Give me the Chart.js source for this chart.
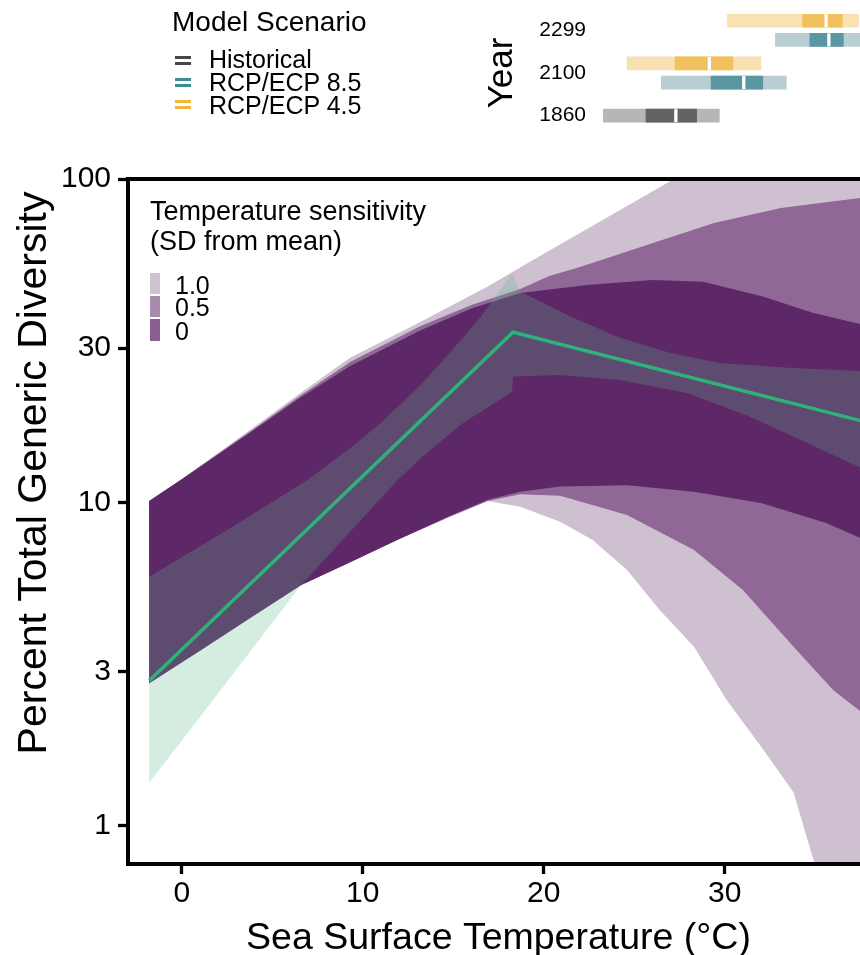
<!DOCTYPE html>
<html>
<head>
<meta charset="utf-8">
<script src="https://cdn.jsdelivr.net/npm/chart.js@4.4.0/dist/chart.umd.min.js"></script>
<style>
  html, body { margin: 0; padding: 0; background: #fff; }
  #page { position: relative; width: 860px; height: 955px; overflow: hidden; font-family: 'Liberation Sans', Arial, sans-serif; color: #000; }
  canvas { position: absolute; left: 0; }
  .txt { position: absolute; white-space: nowrap; line-height: 1; }
  .key { position: absolute; width: 16px; height: 9px; }
  .key i { position: absolute; left: 0; width: 16px; height: 3px; }
  .key i + i { top: 6px; }
  .sw { position: absolute; left: 150px; width: 10px; }
</style>
</head>
<body>
<div id="page">
  <canvas id="years" width="860" height="140" style="top:0"></canvas>
  <canvas id="main" width="860" height="815" style="top:140px"></canvas>

  <div class="txt" style="left:172px;top:8px;font-size:28px">Model Scenario</div>
  <div class="key" style="left:175px;top:56px"><i style="background:#474747"></i><i style="background:#474747"></i></div>
  <div class="key" style="left:175px;top:78px"><i style="background:#3d8a99"></i><i style="background:#3d8a99"></i></div>
  <div class="key" style="left:175px;top:100px"><i style="background:#f0b73a"></i><i style="background:#f0b73a"></i></div>
  <div class="txt" style="left:209px;top:47px;font-size:25px">Historical</div>
  <div class="txt" style="left:209px;top:70px;font-size:25px">RCP/ECP 8.5</div>
  <div class="txt" style="left:209px;top:93px;font-size:25px">RCP/ECP 4.5</div>

  <div class="txt" style="left:150px;top:196px;font-size:27px;line-height:30px">Temperature sensitivity<br>(SD from mean)</div>
  <div class="sw" style="top:273px;height:21px;background:#d0c1d3"></div>
  <div class="sw" style="top:296px;height:21px;background:#a88cad"></div>
  <div class="sw" style="top:319px;height:22px;background:#8b5f90"></div>
  <div class="txt" style="left:175px;top:273px;font-size:25px">1.0</div>
  <div class="txt" style="left:175px;top:295px;font-size:25px">0.5</div>
  <div class="txt" style="left:175px;top:319px;font-size:25px">0</div>
</div>
<script>
Chart.defaults.font.family = "'Liberation Sans', Arial, sans-serif";
Chart.defaults.color = '#000';

// ---- year panel (SST spread per scenario) ----
const yearLabels = ['1860', '2100', '2299'];
const histYears = ['1860'];
const histOuter = [[23.3, 29.7]];
const histInner = [[25.65, 28.45]];
const histMedian = [27.3];
const rcp85Years = ['2100', '2299'];
const rcp85Outer = [[26.5, 33.4], [32.8, 39.0]];
const rcp85Inner = [[29.25, 32.1], [34.7, 36.55]];
const rcp85Median = [31.05, 35.75];
const rcp45Years = ['2100', '2299'];
const rcp45Outer = [[24.6, 32.0], [30.15, 37.4]];
const rcp45Inner = [[27.25, 30.45], [34.3, 36.5]];
const rcp45Median = [29.15, 35.6];

// ---- main panel ----
const xTicks = [0, 10, 20, 30];
const yTicks = [1, 3, 10, 30, 100];

// temperature sensitivity bands (upper / lower edges)
const darkHiX = [-1.8, 0, 3.8, 6.5, 9.3, 13.2, 16.0, 18.7, 22.4, 26.0, 28.8, 32.1, 34.9, 37.5];
const darkHi = [10.1, 11.8, 16.5, 21.0, 26.4, 34.1, 39.8, 44.4, 47.0, 48.7, 48.1, 43.3, 38.5, 35.6];
const darkLoX = [-1.8, 1.0, 3.8, 6.6, 9.3, 11.9, 14.8, 16.9, 18.7, 20.9, 24.6, 28.3, 32.0, 35.6, 37.5];
const darkLo = [2.76, 3.48, 4.40, 5.56, 6.53, 7.66, 9.08, 10.2, 10.8, 11.2, 11.3, 10.8, 9.97, 8.64, 7.77];

const midHiX = [-1.8, 0, 3.8, 6.5, 9.3, 13.2, 16.0, 18.7, 20.3, 22.0, 25.7, 29.4, 33.1, 37.5];
const midHi = [10.1, 11.8, 16.6, 21.3, 27.2, 35.1, 40.8, 45.7, 50.1, 53.5, 62.5, 73.1, 81.4, 87.4];
const midLoX = [-1.8, 1.0, 3.8, 6.6, 9.3, 11.9, 14.8, 16.9, 18.7, 20.9, 24.6, 28.3, 31.0, 33.8, 36.0, 37.5];
const midLo = [2.76, 3.48, 4.40, 5.56, 6.53, 7.66, 9.05, 10.1, 10.6, 10.5, 9.15, 7.13, 5.36, 3.58, 2.63, 2.26];

const lightHiX = [-1.8, 0, 3.8, 6.5, 9.3, 13.2, 16.9, 19.4, 22.0, 27.1, 30.0, 37.5];
const lightHi = [10.1, 11.8, 16.8, 21.7, 28.0, 36.2, 46.5, 56.2, 68.1, 99.3, 122, 198];
const lightLoX = [-1.8, 1.0, 3.8, 6.6, 9.3, 11.9, 14.8, 16.9, 18.7, 20.9, 22.7, 24.6, 26.4, 28.3, 30.1, 32.0, 33.8, 34.9, 35.5, 37.5];
const lightLo = [2.76, 3.48, 4.40, 5.56, 6.53, 7.66, 9.0, 10.1, 9.71, 8.72, 7.66, 6.18, 4.65, 3.58, 2.45, 1.76, 1.27, 0.785, 0.6, 0.5];

// fitted breakpoint line and its interval
const fitX = [-1.8, 18.3, 37.5];
const fitY = [2.81, 33.6, 17.9];
const ciHiX = [-1.8, 2.7, 6.9, 9.3, 11.0, 13.2, 14.8, 16.5, 18.25, 18.7, 21.5, 24.2, 27.0, 29.7, 33.5, 37.5];
const ciHi = [5.90, 8.34, 11.7, 14.7, 17.6, 23.1, 29.0, 37.4, 51.0, 44.8, 37.5, 32.3, 29.0, 27.0, 26.1, 25.5];
const ciLoX = [-1.8, 1.0, 6.6, 11.9, 13.2, 15.4, 18.25, 18.3, 20.9, 24.2, 27.9, 31.2, 34.2, 37.5];
const ciLo = [1.36, 2.17, 5.56, 11.7, 13.7, 17.4, 22.0, 24.5, 24.8, 23.9, 21.8, 18.6, 15.6, 12.8];

function pts(xs, ys) {
	return xs.map((x, i) => ({x: x, y: ys[i]}));
}

function band(hiX, hi, loX, lo) {
	let out = pts(hiX, hi);
	for (let i = loX.length - 1; i >= 0; i--) {
		out.push({x: loX[i], y: lo[i]});
	}
	return out;
}

function scenarioSets(name, yrs, outer, inner, med, light, dark, shift) {
	let pos = yrs.map((y) => yearLabels.indexOf(y) + shift);
	return [
		{
			label: name + ' range',
			data: outer.map((r, i) => ({x: r, y: pos[i]})),
			backgroundColor: light,
			barThickness: 13,
			grouped: false,
			order: 3
		},
		{
			label: name + ' IQR',
			data: inner.map((r, i) => ({x: r, y: pos[i]})),
			backgroundColor: dark,
			barThickness: 13,
			grouped: false,
			order: 2
		},
		{
			type: 'scatter',
			indexAxis: 'x',
			label: name + ' median',
			data: med.map((m, i) => ({x: m, y: pos[i]})),
			pointStyle: 'line',
			pointRotation: 90,
			pointRadius: 6.5,
			pointBorderWidth: 3.3,
			pointBorderColor: '#fff',
			order: 1
		}
	];
}

new Chart(document.getElementById('years'), {
	type: 'bar',
	data: {
		datasets: [].concat(
			scenarioSets('Historical', histYears, histOuter, histInner, histMedian, '#b6b6b6', '#636363', 0),
			scenarioSets('RCP/ECP 8.5', rcp85Years, rcp85Outer, rcp85Inner, rcp85Median, '#b9cdd3', '#5b96a3', -0.225),
			scenarioSets('RCP/ECP 4.5', rcp45Years, rcp45Outer, rcp45Inner, rcp45Median, '#f8e1b2', '#f0c15c', 0.225)
		)
	},
	options: {
		indexAxis: 'y',
		responsive: false,
		animation: false,
		layout: {autoPadding: false, padding: {left: 480, top: 9, bottom: 3, right: 0}},
		plugins: {legend: {display: false}, tooltip: {enabled: false}},
		scales: {
			x: {type: 'linear', min: 22.67, max: 37.47, display: false},
			y: {
				type: 'linear',
				offset: false,
				min: -0.5,
				max: 2.5,
				afterBuildTicks: (s) => { s.ticks = [0, 1, 2].map((v) => ({value: v})); },
				afterFit: (s) => {
					s.width = 112;
					s.paddingTop = 0;
					s.paddingBottom = 0;
				},
				ticks: {callback: (v) => yearLabels[v], font: {size: 21}, color: '#000', padding: 6},
				grid: {display: false, drawTicks: false},
				border: {display: false},
				title: {display: true, text: 'Year', color: '#000', font: {size: 35, lineHeight: 1}, padding: {top: 5, bottom: 0}}
			}
		}
	}
});

// top frame line and both axis titles
const frameTop = {
	id: 'frameTop',
	afterDraw(chart) {
		const ctx = chart.ctx;
		const a = chart.chartArea;
		ctx.save();
		ctx.strokeStyle = '#000';
		ctx.lineWidth = 4;
		ctx.beginPath();
		ctx.moveTo(a.left - 2, a.top);
		ctx.lineTo(a.right, a.top);
		ctx.stroke();
		ctx.fillStyle = '#000';
		ctx.textAlign = 'center';
		ctx.textBaseline = 'alphabetic';
		ctx.font = "37.5px 'Liberation Sans', Arial, sans-serif";
		ctx.fillText('Sea Surface Temperature (°C)', 498.5, 808.5);
		ctx.translate(45.5, 333);
		ctx.rotate(-Math.PI / 2);
		ctx.font = "41px 'Liberation Sans', Arial, sans-serif";
		ctx.fillText('Percent Total Generic Diversity', 0, 0);
		ctx.restore();
	}
};

new Chart(document.getElementById('main'), {
	type: 'line',
	data: {
		datasets: [
			{label: 'fit', data: pts(fitX, fitY), borderColor: '#2db37a', borderWidth: 3.5, pointRadius: 0, fill: false, order: 0},
			{label: 'interval', data: band(ciHiX, ciHi, ciLoX, ciLo), backgroundColor: 'rgba(94,186,136,0.26)', borderWidth: 0, pointRadius: 0, fill: 'shape', order: 1},
			{label: '0', data: band(darkHiX, darkHi, darkLoX, darkLo), backgroundColor: '#5e2767', borderWidth: 0, pointRadius: 0, fill: 'shape', order: 2},
			{label: '0.5', data: band(midHiX, midHi, midLoX, midLo), backgroundColor: '#8f6896', borderWidth: 0, pointRadius: 0, fill: 'shape', order: 3},
			{label: '1.0', data: band(lightHiX, lightHi, lightLoX, lightLo), backgroundColor: '#cfc0d1', borderWidth: 0, pointRadius: 0, fill: 'shape', order: 4}
		]
	},
	options: {
		responsive: false,
		animation: false,
		layout: {padding: {top: 39, left: 0, right: 0, bottom: 0}},
		plugins: {legend: {display: false}, tooltip: {enabled: false}},
		scales: {
			x: {
				type: 'linear',
				min: -2.97,
				max: 37.47,
				afterBuildTicks: (s) => { s.ticks = xTicks.map((v) => ({value: v})); },
				afterFit: (s) => { s.height = 91; },
				ticks: {font: {size: 30}, color: '#000', padding: 2, callback: (v) => String(v)},
				grid: {drawOnChartArea: false, tickLength: 10, tickWidth: 3.3, tickColor: '#000'},
				border: {display: true, width: 4, color: '#000', z: 1}
			},
			y: {
				type: 'logarithmic',
				min: 0.763,
				max: 100,
				afterBuildTicks: (s) => { s.ticks = yTicks.map((v) => ({value: v})); },
				afterFit: (s) => { s.width = 128; },
				ticks: {font: {size: 30}, color: '#000', padding: 7, callback: (v) => String(v)},
				grid: {drawOnChartArea: false, tickLength: 10, tickWidth: 3.3, tickColor: '#000'},
				border: {display: true, width: 4, color: '#000', z: 1}
			}
		}
	},
	plugins: [frameTop]
});
</script>
</body>
</html>
